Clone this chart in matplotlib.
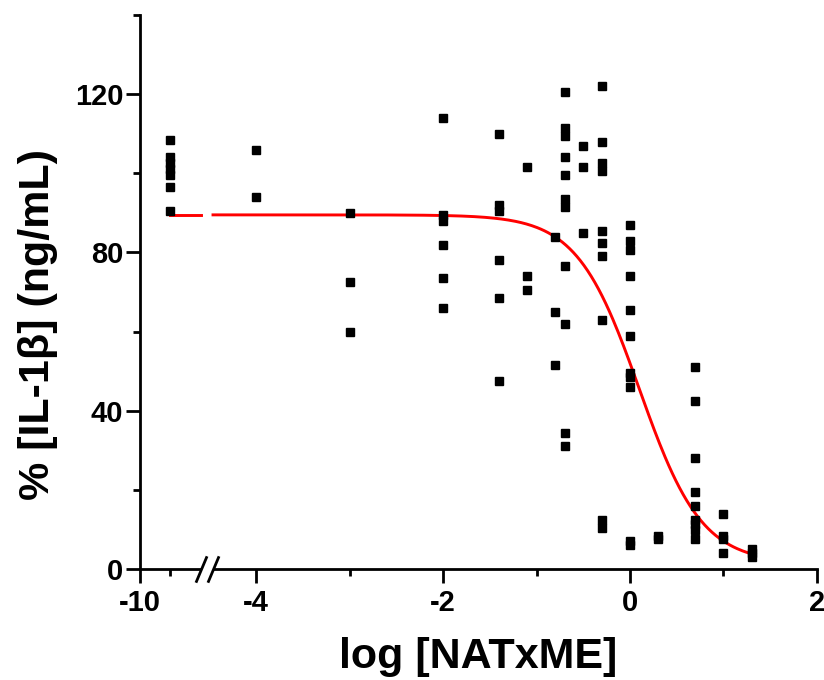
import numpy as np
import matplotlib
matplotlib.use("Agg")
import matplotlib.pyplot as plt
from matplotlib.scale import FuncScale

# ─────────────────────────────────────────────
# DATA
# ─────────────────────────────────────────────
LOG_DOSE = [-9, -4, -3, -2, -1.4, -1.1, -0.8, -0.7, -0.5, -0.3, 0, 0.3, 0.7, 1.0, 1.3]
RESPONSES = [
    [108.5, 104, 102.5, 101, 99.5, 96.5, 90.5],                 # -9 (control)
    [106, 94],                                                  # -4
    [90, 72.5, 60],                                             # -3
    [114, 89.5, 88, 82, 73.5, 66],                              # -2
    [110, 92, 90.5, 78, 68.5, 47.5],                            # -1.4
    [101.5, 74, 70.5],                                          # -1.1
    [84, 65, 51.5],                                             # -0.8
    [120.5, 111.5, 109.5, 104, 99.5, 93.5, 91.5, 76.5, 62, 34.5, 31],  # -0.7
    [107, 101.5, 85],                                           # -0.5
    [122, 108, 102.5, 100.5, 85.5, 82.5, 79, 63, 12.5, 10.5],   # -0.3
    [87, 83, 80.5, 74, 65.5, 59, 49.5, 48.5, 46, 7, 6],         # 0
    [8.5, 7.5],                                                 # 0.3
    [51, 42.5, 28, 19.5, 16, 12.5, 11.5, 10, 7.5],              # 0.7
    [14, 8.5, 7.5, 4],                                          # 1.0
    [5, 4, 3],                                                  # 1.3
]

# 4-parameter logistic fit (red curve)
FIT_TOP     = 89.5
FIT_BOTTOM  = 1.5
FIT_LOGIC50 = 0.1
FIT_HILL    = 1.3

X_TICKS       = [-10, -4, -2, 0, 2]
X_MINOR_TICKS = [-9, -3, -1, 1]
Y_TICKS       = [0, 40, 80, 120]
Y_MINOR_TICKS = [20, 60, 100, 140]

# broken x axis: data value -> axis position
BREAK_X = [-10, -8, -4.46, 2]
BREAK_U = [-5.24, -4.59, -4.46, 2]
LEFT_PART  = (-9, -8)
RIGHT_PART = (-4.46, 1.3)


def forward(x):
    return np.interp(x, BREAK_X, BREAK_U)


def inverse(u):
    return np.interp(u, BREAK_U, BREAK_X)


def logistic(x):
    return FIT_BOTTOM + (FIT_TOP - FIT_BOTTOM) / (1 + 10 ** ((x - FIT_LOGIC50) * FIT_HILL))


# ─────────────────────────────────────────────
# PLOT
# ─────────────────────────────────────────────
plt.rcParams['font.family'] = ['Liberation Sans', 'DejaVu Sans']
plt.rcParams['font.weight'] = 'bold'
plt.rcParams['axes.unicode_minus'] = False

fig = plt.figure(figsize=(8.24, 6.8), dpi=100)
ax = fig.add_axes([0.170, 0.163, 0.8215, 0.815])
ax.set_xscale(FuncScale(ax.xaxis, (forward, inverse)))

xs = np.concatenate([[d] * len(r) for d, r in zip(LOG_DOSE, RESPONSES)])
ys = np.concatenate(RESPONSES)
ax.plot(xs, ys, ls='none', marker='s', ms=5.8, color='black', zorder=3)

for lo, hi in (LEFT_PART, RIGHT_PART):
    xf = np.linspace(lo, hi, 300)
    ax.plot(xf, logistic(xf), color='red', lw=2.1, zorder=2)

ax.set_xlim(-10, 2)
ax.set_ylim(0, 140)
ax.set_xticks(X_TICKS)
ax.set_xticks(X_MINOR_TICKS, minor=True)
ax.set_yticks(Y_TICKS)
ax.set_yticks(Y_MINOR_TICKS, minor=True)

for side in ('top', 'right'):
    ax.spines[side].set_visible(False)
for side in ('left', 'bottom'):
    ax.spines[side].set_linewidth(2)

ax.tick_params(which='major', direction='out', length=10, width=2, labelsize=21)
ax.tick_params(which='minor', direction='out', length=5, width=2)
ax.tick_params(axis='x', pad=4)
ax.tick_params(axis='y', pad=2)

# axis break marks "//"
brk = ax.get_xaxis_transform()
ax.plot([BREAK_X[1], BREAK_X[2]], [0, 0], color='white', lw=4,
        transform=brk, clip_on=False, zorder=4, solid_capstyle='butt')
for bx in (BREAK_X[1], BREAK_X[2]):
    ax.plot([bx], [0], transform=brk, clip_on=False, zorder=5,
            marker=[(-0.42, -1), (0.42, 1)], ms=19, mew=2, color='black')

ax.set_xlabel('log [NATxME]', fontsize=31, fontweight='bold', labelpad=15)
ax.set_ylabel('% [IL-1β] (ng/mL)', fontsize=31, fontweight='bold')
ax.yaxis.set_label_coords(-0.121, 0.442)

fig.savefig('out.png', dpi=100)
